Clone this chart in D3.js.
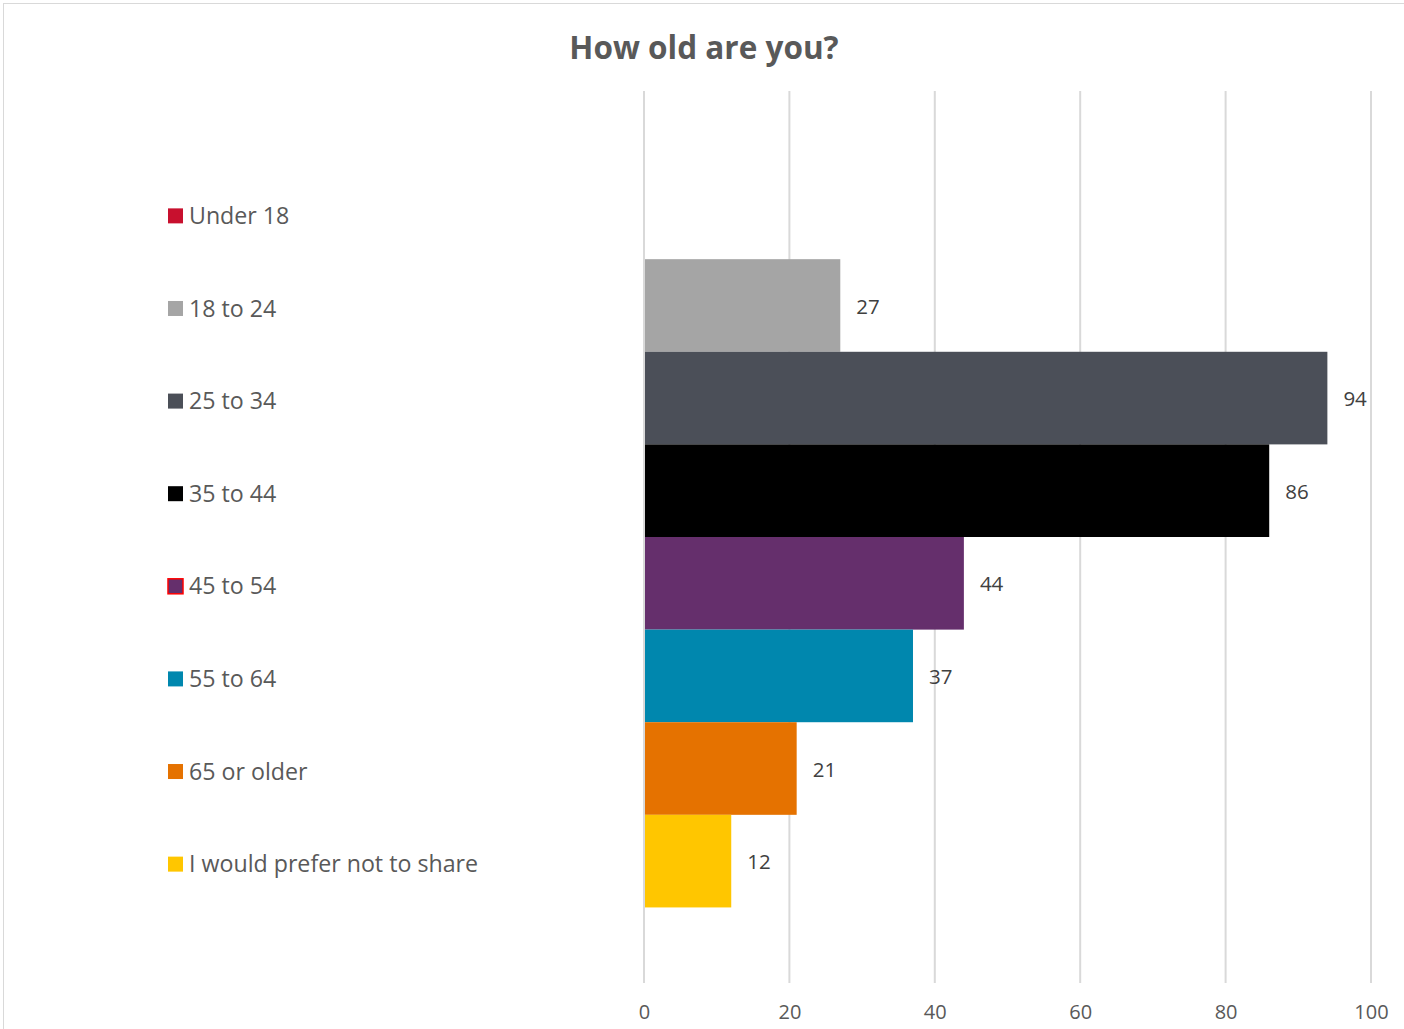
<!DOCTYPE html>
<html>
<head>
<meta charset="utf-8">
<script src="https://cdn.jsdelivr.net/npm/d3@7"></script>
<style>
  html, body { margin: 0; padding: 0; background: #fff; }
  svg { display: block; }
  text { font-family: "Open Sans", "Noto Sans", sans-serif; }
</style>
</head>
<body>
<svg id="chart" width="1404" height="1029"></svg>
<script>
// Age groups, respondent counts and bar colours
const categories = ["Under 18", "18 to 24", "25 to 34", "35 to 44", "45 to 54", "55 to 64", "65 or older", "I would prefer not to share"];
const values = [0, 27, 94, 86, 44, 37, 21, 12];
const colors = ["#C8102E", "#A5A5A5", "#4B4F58", "#000000", "#652F6C", "#0087AE", "#E57200", "#FFC600"];
const tickValues = [0, 20, 40, 60, 80, 100];
const title = "How old are you?";

const svg = d3.select("#chart");
const W = 1404, H = 1029;

// Chart frame
svg.append("rect")
  .attr("x", 3.5).attr("y", 3.5)
  .attr("width", W + 10).attr("height", H + 10)
  .attr("fill", "#fff")
  .attr("stroke", "#D9D9D9").attr("stroke-width", 1);

// Title
svg.append("text")
  .attr("x", 704).attr("y", 59)
  .attr("text-anchor", "middle")
  .attr("font-size", 31.5).attr("font-weight", 700)
  .attr("fill", "#595959")
  .text(title);

const plotTop = 91, plotBottom = 983;
const x = d3.scaleLinear().domain([0, 100]).range([644, 1371]);
const y = d3.scaleBand().domain(categories).range([plotTop, plotBottom])
  .paddingInner(0).paddingOuter(0.816);

// Vertical gridlines
svg.append("g").selectAll("line")
  .data(tickValues)
  .join("line")
  .attr("x1", d => x(d)).attr("x2", d => x(d))
  .attr("y1", plotTop).attr("y2", plotBottom)
  .attr("stroke", "#D9D9D9").attr("stroke-width", 2);

// Bottom axis labels
const axis = d3.axisBottom(x).tickValues(tickValues).tickSize(0).tickPadding(0);
const axisG = svg.append("g")
  .attr("transform", `translate(0, ${plotBottom + 22})`)
  .call(axis);
axisG.select(".domain").remove();
axisG.selectAll("text")
  .attr("font-family", "Open Sans, Noto Sans, sans-serif")
  .attr("font-size", 20)
  .attr("fill", "#595959")
  .attr("dy", "0.71em");

// Bars
const rows = categories.map((c, i) => ({ cat: c, value: values[i], color: colors[i] }));
svg.append("g").selectAll("rect")
  .data(rows.filter(d => d.value > 0))
  .join("rect")
  .attr("x", x(0) + 1)
  .attr("y", d => y(d.cat))
  .attr("width", d => x(d.value) - x(0) - 1)
  .attr("height", y.bandwidth())
  .attr("fill", d => d.color);

// Data labels
svg.append("g").selectAll("text")
  .data(rows.filter(d => d.value > 0))
  .join("text")
  .attr("x", d => x(d.value) + 16)
  .attr("y", d => y(d.cat) + y.bandwidth() / 2 + 1)
  .attr("dy", "0.35em")
  .attr("font-size", 20.5)
  .attr("fill", "#404040")
  .text(d => d.value);

// Legend, one entry per band
const legend = svg.append("g").selectAll("g")
  .data(rows)
  .join("g")
  .attr("transform", d => `translate(168, ${y(d.cat) + y.bandwidth() / 2 + 3})`);
legend.append("rect")
  .attr("x", 0).attr("y", -7.5)
  .attr("width", 15).attr("height", 15)
  .attr("fill", d => d.color)
  .attr("stroke", d => d.cat === "45 to 54" ? "#FF0000" : "none")
  .attr("stroke-width", 1.5);
legend.append("text")
  .attr("x", 21).attr("y", 0)
  .attr("dy", "0.35em")
  .attr("font-size", 23.2)
  .attr("fill", "#595959")
  .text(d => d.cat);
</script>
</body>
</html>
